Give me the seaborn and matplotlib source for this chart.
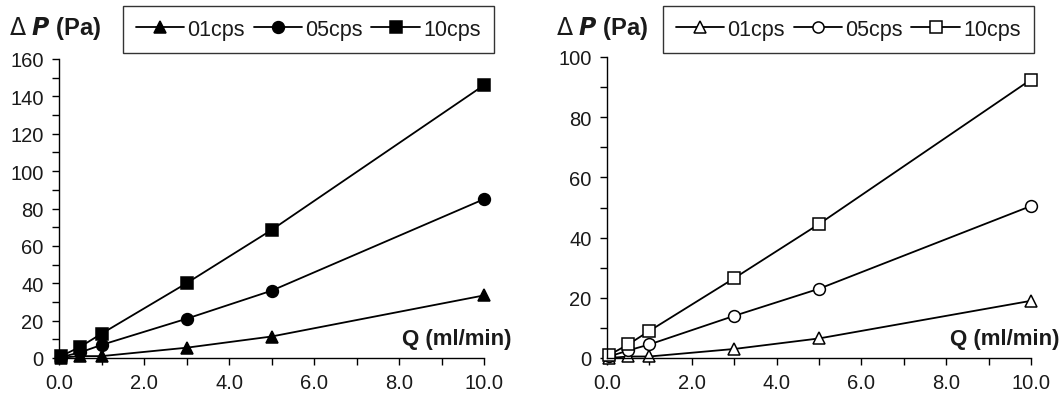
import numpy as np
import pandas as pd
import matplotlib
matplotlib.use("Agg")
import matplotlib.pyplot as plt
import seaborn as sns
from matplotlib.ticker import MultipleLocator, FormatStrFormatter
from matplotlib.lines import Line2D

sns.set_style("ticks")
plt.rcParams['font.family'] = ['Liberation Sans', 'DejaVu Sans']

q = [0.05, 0.5, 1.0, 3.0, 5.0, 10.0]
series = ["01cps", "05cps", "10cps"]
left_01 = [0.2, 1.0, 1.0, 5.5, 11.5, 33.5]
left_05 = [0.5, 3.0, 7.0, 21.0, 36.0, 85.0]
left_10 = [1.0, 6.0, 13.0, 40.0, 68.5, 146.0]
right_01 = [0.0, 0.5, 0.5, 3.0, 6.5, 19.0]
right_05 = [0.5, 2.5, 4.5, 14.0, 23.0, 50.5]
right_10 = [1.0, 4.5, 9.0, 26.5, 44.5, 92.5]

def frame(vals):
    rows = []
    for name, v in zip(series, vals):
        for x, y in zip(q, v):
            rows.append({"Q": x, "dP": y, "series": name})
    return pd.DataFrame(rows)

df_l = frame([left_01, left_05, left_10])
df_r = frame([right_01, right_05, right_10])

fig = plt.figure(figsize=(10.62, 4.06), dpi=100)
H = 406.0; W = 1062.0
ax1 = fig.add_axes([59/W, (H-359)/H, (484-59)/W, (359-60)/H])
ax2 = fig.add_axes([607/W, (H-359)/H, (1031-607)/W, (359-58)/H])

markers = {"01cps": "^", "05cps": "o", "10cps": "s"}
pal = {s: "black" for s in series}
TXT = "#1a1a1a"

def draw(ax, df, filled, ymax, ystep, yminor, legx0, labx, qx):
    sns.lineplot(data=df, x="Q", y="dP", hue="series", style="series",
                 markers=markers, dashes=False, palette=pal, ax=ax,
                 markersize=8.5, linewidth=1.3, legend=False,
                 markerfacecolor=("black" if filled else "white"),
                 markeredgecolor="black", markeredgewidth=1.1, clip_on=False)
    ax.set_xlim(0, 10)
    ax.set_ylim(0, ymax)
    ax.xaxis.set_major_locator(MultipleLocator(2))
    ax.xaxis.set_minor_locator(MultipleLocator(1))
    ax.yaxis.set_major_locator(MultipleLocator(ystep))
    ax.yaxis.set_minor_locator(MultipleLocator(yminor))
    ax.xaxis.set_major_formatter(FormatStrFormatter("%.1f"))
    for s in ["top", "right"]:
        ax.spines[s].set_visible(False)
    for s in ["left", "bottom"]:
        ax.spines[s].set_color("black")
        ax.spines[s].set_linewidth(1.0)
    ax.tick_params(which="both", direction="out", length=5, width=1.0,
                   color="black", labelsize=14.5, labelcolor=TXT, pad=6)
    ax.set_xlabel("")
    ax.set_ylabel("")
    handles = [Line2D([], [], color="black", lw=1.3, marker=markers[s],
                      markersize=8.5 if filled else 8,
                      markerfacecolor=("black" if filled else "white"),
                      markeredgecolor="black", markeredgewidth=1.1)
               for s in series]
    leg = fig.legend(handles, series, ncol=3, loc="upper left",
                     bbox_to_anchor=(legx0/W, 1 - 7/H),
                     frameon=True, fancybox=False, fontsize=15.5,
                     handlelength=2.25, handletextpad=0.15, columnspacing=0.4,
                     borderpad=0.6, borderaxespad=0)
    for t in leg.get_texts():
        t.set_color(TXT)
    leg.get_frame().set_edgecolor("black")
    leg.get_frame().set_linewidth(1.0)
    fig.text(labx/W, 1 - 29/H, r"$\Delta$ $\bfit{P}$ (Pa)", fontsize=17,
             fontweight="bold", va="center", ha="left", color=TXT)
    fig.text(qx/W, 1 - 340/H, "Q (ml/min)", fontsize=16, fontweight="bold",
             va="center", ha="center", color=TXT)

draw(ax1, df_l, True, 160, 20, 10, 123, 9, 457)
draw(ax2, df_r, False, 100, 20, 10, 663, 556, 1005)

fig.savefig("out.png", dpi=100)
